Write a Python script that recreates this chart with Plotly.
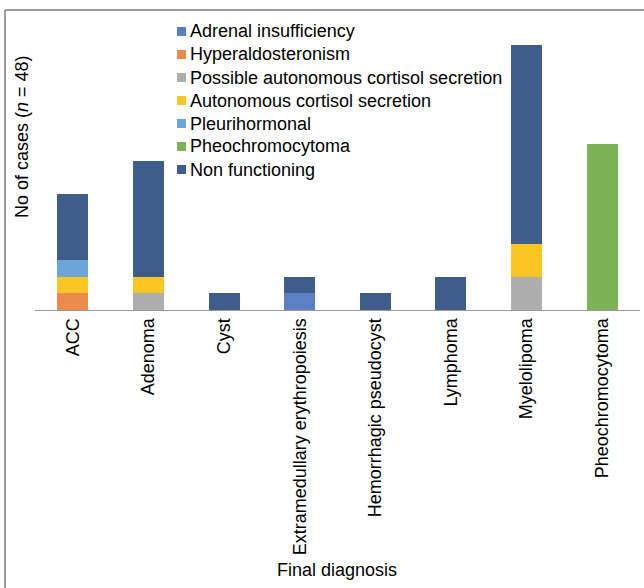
import plotly.graph_objects as go

# Final diagnosis categories
diagnoses = ["ACC", "Adenoma", "Cyst", "Extramedullary erythropoiesis",
             "Hemorrhagic pseudocyst", "Lymphoma", "Myelolipoma", "Pheochromocytoma"]

# Case counts per hormonal status, one value per diagnosis
adrenal_insufficiency = [0, 0, 0, 1, 0, 0, 0, 0]
hyperaldosteronism = [1, 0, 0, 0, 0, 0, 0, 0]
possible_acs = [0, 1, 0, 0, 0, 0, 2, 0]
autonomous_cs = [1, 1, 0, 0, 0, 0, 2, 0]
pleurihormonal = [1, 0, 0, 0, 0, 0, 0, 0]
pheochromocytoma = [0, 0, 0, 0, 0, 0, 0, 10]
non_functioning = [4, 7, 1, 1, 1, 2, 12, 0]

series = [
    ("Adrenal insufficiency", adrenal_insufficiency, "#5B7FC4"),
    ("Hyperaldosteronism", hyperaldosteronism, "#EC8A4B"),
    ("Possible autonomous cortisol secretion", possible_acs, "#AEAEAE"),
    ("Autonomous cortisol secretion", autonomous_cs, "#FBC523"),
    ("Pleurihormonal", pleurihormonal, "#6CA5D7"),
    ("Pheochromocytoma", pheochromocytoma, "#7EB35A"),
    ("Non functioning", non_functioning, "#3E5D8A"),
]

fig = go.Figure()
for name, vals, color in series:
    fig.add_trace(go.Bar(
        x=diagnoses, y=vals, name=name,
        marker=dict(color=color, line=dict(width=0)),
        width=0.41, showlegend=False,
    ))

W, H = 644, 588
ml, mr, mt, mb = 35, 4, 12, 278
pw, ph = W - ml - mr, H - mt - mb


def px_x(p):
    return (p - ml) / pw


def px_y(p):
    return 1 - (p - mt) / ph


font = dict(family="Liberation Sans, Arial, sans-serif", size=18, color="#000000")

shapes = [
    # outer frame: top and left edges
    dict(type="line", xref="paper", yref="paper",
         x0=px_x(5), x1=px_x(644), y0=px_y(10), y1=px_y(10),
         line=dict(color="#7A7A7A", width=1.5)),
    dict(type="line", xref="paper", yref="paper",
         x0=px_x(5), x1=px_x(5), y0=px_y(10), y1=px_y(588),
         line=dict(color="#7A7A7A", width=1.5)),
]
annotations = [
    dict(text="No of cases (<i>n</i> = 48)", xref="paper", yref="paper",
         x=px_x(22), y=px_y(137), textangle=-90, showarrow=False,
         xanchor="center", yanchor="middle", font=font),
    dict(text="Final diagnosis", xref="paper", yref="paper",
         x=px_x(337), y=px_y(570), showarrow=False,
         xanchor="center", yanchor="middle", font=font),
]

# legend: small square swatch followed by the series name
leg_x, leg_y0, leg_dy, sw = 177, 31.5, 23, 9
for i, (name, _, color) in enumerate(series):
    cy = leg_y0 + i * leg_dy
    shapes.append(dict(type="rect", xref="paper", yref="paper",
                       x0=px_x(leg_x), x1=px_x(leg_x + sw),
                       y0=px_y(cy - sw / 2), y1=px_y(cy + sw / 2),
                       fillcolor=color, line=dict(width=0)))
    annotations.append(dict(text=name, xref="paper", yref="paper",
                            x=px_x(leg_x + sw + 2), y=px_y(cy),
                            xanchor="left", yanchor="middle",
                            showarrow=False, font=font))

fig.update_layout(
    width=W, height=H,
    margin=dict(l=ml, r=mr, t=mt, b=mb),
    barmode="stack",
    paper_bgcolor="white", plot_bgcolor="white",
    font=font,
    showlegend=False,
    xaxis=dict(
        showline=True, linecolor="#9A9A9A", linewidth=1,
        tickangle=-90, ticks="", tickfont=font, showgrid=False,
    ),
    yaxis=dict(
        range=[0, 18], showticklabels=False, showgrid=False,
        zeroline=False, showline=False, ticks="",
    ),
    shapes=shapes,
    annotations=annotations,
)

fig.write_html("out.html")
